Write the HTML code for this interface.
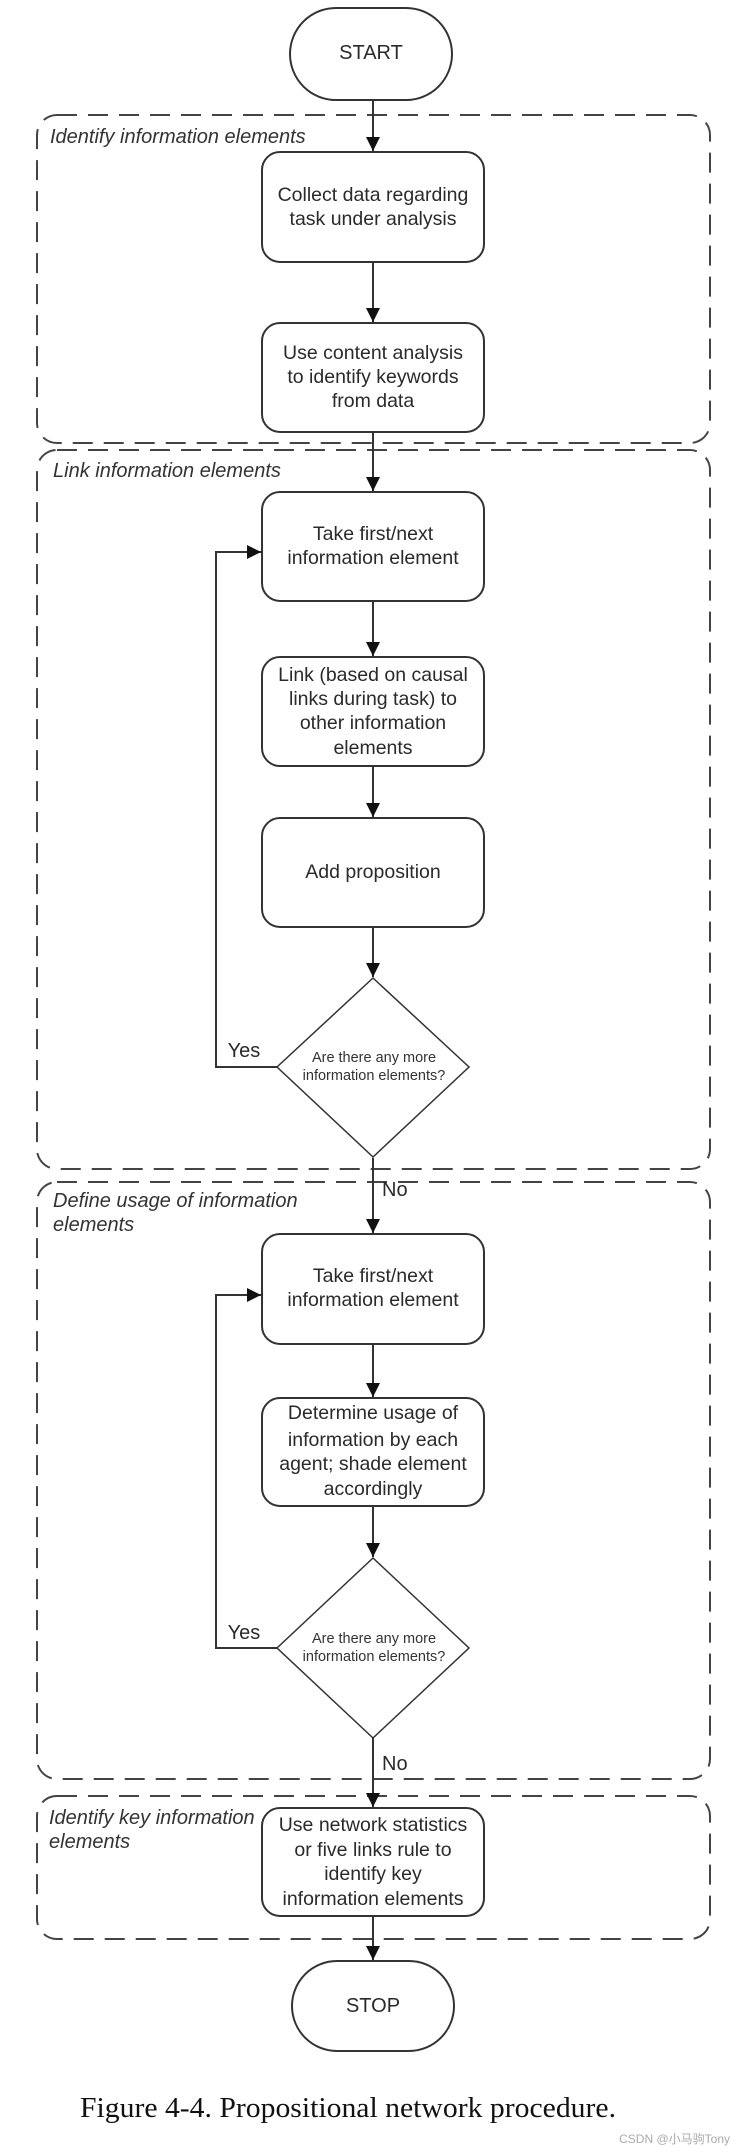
<!DOCTYPE html>
<html><head><meta charset="utf-8"><style>
html,body{margin:0;padding:0;background:#fff;}
svg{display:block;}
.b{font-family:"Liberation Sans",Arial,sans-serif;font-size:19.5px;fill:#2a2a2a;text-anchor:middle;}
.g{font-family:"Liberation Sans",Arial,sans-serif;font-size:20px;fill:#333;font-style:italic;}
.d{font-family:"Liberation Sans",Arial,sans-serif;font-size:14.5px;fill:#333;text-anchor:middle;}
.box{fill:#fff;stroke:#333;stroke-width:2;}
.grp{fill:none;stroke:#444;stroke-width:2;stroke-dasharray:20 11;}
.ln{stroke:#333;stroke-width:2;fill:none;}
</style></head><body>
<svg width="739" height="2153" viewBox="0 0 739 2153" xmlns="http://www.w3.org/2000/svg">
<defs><marker id="a" viewBox="0 0 10 10" refX="10" refY="5" markerWidth="14" markerHeight="14" markerUnits="userSpaceOnUse" orient="auto"><path d="M0,0 L10,5 L0,10 z" fill="#111"/></marker></defs>

<rect class="grp" x="37" y="115" width="673" height="328" rx="20"/>
<rect class="grp" x="37" y="450" width="673" height="719" rx="20"/>
<rect class="grp" x="37" y="1182" width="673" height="597" rx="20"/>
<rect class="grp" x="37" y="1796" width="673" height="143" rx="20"/>
<text class="g" x="50" y="143">Identify information elements</text>
<text class="g" x="53" y="477">Link information elements</text>
<text class="g" x="53" y="1207">Define usage of information</text>
<text class="g" x="53" y="1231">elements</text>
<text class="g" x="49" y="1824">Identify key information</text>
<text class="g" x="49" y="1848">elements</text>

<line class="ln" x1="373" y1="100" x2="373" y2="151" marker-end="url(#a)"/>
<line class="ln" x1="373" y1="262" x2="373" y2="322" marker-end="url(#a)"/>
<line class="ln" x1="373" y1="432" x2="373" y2="491" marker-end="url(#a)"/>
<line class="ln" x1="373" y1="601" x2="373" y2="656" marker-end="url(#a)"/>
<line class="ln" x1="373" y1="766" x2="373" y2="817" marker-end="url(#a)"/>
<line class="ln" x1="373" y1="927" x2="373" y2="977" marker-end="url(#a)"/>
<line class="ln" x1="373" y1="1158" x2="373" y2="1233" marker-end="url(#a)"/>
<line class="ln" x1="373" y1="1344" x2="373" y2="1397" marker-end="url(#a)"/>
<line class="ln" x1="373" y1="1506" x2="373" y2="1557" marker-end="url(#a)"/>
<line class="ln" x1="373" y1="1738" x2="373" y2="1807" marker-end="url(#a)"/>
<line class="ln" x1="373" y1="1916" x2="373" y2="1960" marker-end="url(#a)"/>
<polyline class="ln" points="277,1067 216,1067 216,552 261,552" marker-end="url(#a)"/>
<polyline class="ln" points="277,1648 216,1648 216,1295 261,1295" marker-end="url(#a)"/>

<rect class="box" x="290" y="8" width="162" height="92" rx="46"/>
<text class="b" x="371" y="59" style="font-size:20px">START</text>
<rect class="box" x="292" y="1961" width="162" height="90" rx="45"/>
<text class="b" x="373" y="2012" style="font-size:20px">STOP</text>

<rect class="box" x="262" y="152" width="222" height="110" rx="18"/>
<text class="b" x="373" y="201">Collect data regarding</text>
<text class="b" x="373" y="225">task under analysis</text>

<rect class="box" x="262" y="323" width="222" height="109" rx="18"/>
<text class="b" x="373" y="359">Use content analysis</text>
<text class="b" x="373" y="383">to identify keywords</text>
<text class="b" x="373" y="407">from data</text>

<rect class="box" x="262" y="492" width="222" height="109" rx="18"/>
<text class="b" x="373" y="540">Take first/next</text>
<text class="b" x="373" y="564">information element</text>

<rect class="box" x="262" y="657" width="222" height="109" rx="18"/>
<text class="b" x="373" y="681">Link (based on causal</text>
<text class="b" x="373" y="705">links during task) to</text>
<text class="b" x="373" y="729">other information</text>
<text class="b" x="373" y="754">elements</text>

<rect class="box" x="262" y="818" width="222" height="109" rx="18"/>
<text class="b" x="373" y="878">Add proposition</text>

<polygon class="box" points="373,978 469,1067 373,1157 277,1067" style="stroke-width:1.5"/>
<text class="d" x="374" y="1062">Are there any more</text>
<text class="d" x="374" y="1080">information elements?</text>
<text class="b" x="244" y="1057" style="font-size:20px">Yes</text>
<text class="b" x="382" y="1196" style="text-anchor:start;font-size:20px">No</text>

<rect class="box" x="262" y="1234" width="222" height="110" rx="18"/>
<text class="b" x="373" y="1282">Take first/next</text>
<text class="b" x="373" y="1306">information element</text>

<rect class="box" x="262" y="1398" width="222" height="108" rx="18"/>
<text class="b" x="373" y="1419">Determine usage of</text>
<text class="b" x="373" y="1446">information by each</text>
<text class="b" x="373" y="1470">agent; shade element</text>
<text class="b" x="373" y="1495">accordingly</text>

<polygon class="box" points="373,1558 469,1648 373,1738 277,1648" style="stroke-width:1.5"/>
<text class="d" x="374" y="1643">Are there any more</text>
<text class="d" x="374" y="1661">information elements?</text>
<text class="b" x="244" y="1639" style="font-size:20px">Yes</text>
<text class="b" x="382" y="1770" style="text-anchor:start;font-size:20px">No</text>

<rect class="box" x="262" y="1808" width="222" height="108" rx="18"/>
<text class="b" x="373" y="1831">Use network statistics</text>
<text class="b" x="373" y="1856">or five links rule to</text>
<text class="b" x="373" y="1880">identify key</text>
<text class="b" x="373" y="1905">information elements</text>

<text x="80" y="2117" textLength="536" lengthAdjust="spacingAndGlyphs" style="font-family:'Liberation Serif',serif;font-size:28px;fill:#111;">Figure 4-4. Propositional network procedure.</text>
<text x="730" y="2143" style="font-family:'Liberation Sans','Noto Sans CJK SC',sans-serif;font-size:12px;fill:#aaa;text-anchor:end;">CSDN @小马驹Tony</text>
</svg>
</body></html>
